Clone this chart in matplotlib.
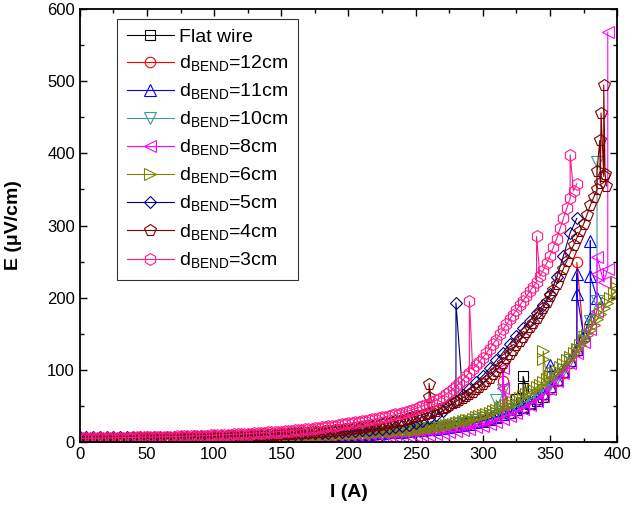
import matplotlib
matplotlib.use("Agg")
import matplotlib.pyplot as plt
from matplotlib.ticker import MultipleLocator
import numpy as np

plt.rcParams['font.family'] = ['Liberation Sans', 'DejaVu Sans']
plt.rcParams['mathtext.fontset'] = 'custom'
plt.rcParams['mathtext.rm'] = 'Liberation Sans'

# current steps (A): 5 A runs and 2.5 A runs
current = np.arange(0, 400.1, 5)
current_fine = np.arange(0, 400.1, 2.5)

#******  E (uV/cm) per run, one value per current step  ******#
flat_wire = [3.8, 3.8, 3.9, 3.9, 4.0, 4.0, 4.1, 4.2, 4.2, 4.3, 4.4, 4.5, 4.6, 4.7, 4.8, 4.9,
             5.0, 5.1, 5.2, 5.3, 5.5, 5.6, 5.8, 5.9, 6.1, 6.3, 6.5, 6.7, 6.9, 7.1, 7.4, 7.6,
             7.9, 8.2, 8.5, 8.8, 9.1, 9.5, 9.8, 10.2, 10.6, 11.0, 11.5, 12.0, 12.5, 13.1, 13.7,
             14.3, 15.0, 15.7, 16.5, 17.3, 18.2, 19.2, 20.3, 21.5, 22.8, 24.3, 25.9, 27.7, 29.7,
             31.9, 34.4, 37.2, 40.3, 43.8, 47.7, 52.1, 57.1, 62.8]
d12 = [3.5, 3.5, 3.6, 3.6, 3.7, 3.7, 3.8, 3.9, 3.9, 4.0, 4.1, 4.2, 4.3, 4.4, 4.5, 4.6, 4.7,
       4.8, 4.9, 5.0, 5.2, 5.3, 5.5, 5.6, 5.8, 6.0, 6.2, 6.4, 6.6, 6.8, 7.0, 7.3, 7.5, 7.8, 8.0,
       8.3, 8.6, 8.9, 9.2, 9.5, 9.9, 10.3, 10.7, 11.1, 11.6, 12.1, 12.6, 13.2, 13.8, 14.5, 15.2,
       16.0, 16.9, 17.9, 19.0, 20.2, 21.6, 23.1, 24.8, 26.7, 28.8, 31.2, 33.8, 36.8, 40.1, 43.8,
       48, 53, 59, 66, 74, 84, 96, 110, 126, 144]
d11 = [4.0, 4.0, 4.1, 4.1, 4.2, 4.2, 4.3, 4.3, 4.4, 4.5, 4.5, 4.6, 4.7, 4.8, 4.9, 5.0, 5.1,
       5.2, 5.3, 5.4, 5.5, 5.7, 5.8, 6.0, 6.1, 6.3, 6.5, 6.7, 6.9, 7.1, 7.3, 7.6, 7.8, 8.1, 8.4,
       8.7, 9.0, 9.3, 9.7, 10.0, 10.4, 10.8, 11.3, 11.7, 12.2, 12.7, 13.3, 13.9, 14.5, 15.2, 15.9,
       16.7, 17.6, 18.6, 19.7, 20.9, 22.3, 23.8, 25.5, 27.5, 29.7, 32.2, 35.0, 38.2, 41.8, 45.8,
       50.3, 55.5, 61.5, 68.5, 77, 87, 99, 113, 129, 148, 172, 200]
d10 = [3.2, 3.2, 3.3, 3.3, 3.4, 3.4, 3.5, 3.5, 3.6, 3.7, 3.7, 3.8, 3.9, 4.0, 4.1, 4.2, 4.3,
       4.4, 4.5, 4.6, 4.8, 4.9, 5.1, 5.2, 5.4, 5.6, 5.8, 6.0, 6.2, 6.4, 6.7, 6.9, 7.2, 7.5, 7.8,
       8.1, 8.4, 8.8, 9.2, 9.6, 10.0, 10.5, 11.0, 11.5, 12.1, 12.7, 13.4, 14.1, 14.9, 15.8, 16.7,
       17.7, 18.8, 20.0, 21.3, 22.8, 24.4, 26.2, 28.2, 30.4, 32.8, 35.5, 38.5, 41.8, 45.5, 49.5,
       54, 59, 65, 72, 80, 89, 100, 113, 128, 146, 168, 195]
d8 = [3.0, 3.0, 3.1, 3.1, 3.2, 3.2, 3.3, 3.3, 3.4, 3.4, 3.5, 3.6, 3.6, 3.7, 3.8, 3.9, 3.9,
      4.0, 4.1, 4.2, 4.3, 4.4, 4.5, 4.6, 4.7, 4.8, 4.9, 5.0, 5.1, 5.2, 5.3, 5.4, 5.5, 5.7, 5.8,
      6.0, 6.1, 6.3, 6.5, 6.7, 6.9, 7.1, 7.3, 7.5, 7.7, 7.9, 8.0, 8.1, 8.2, 8.3, 8.5, 9.3, 10.2,
      11.2, 12.3, 13.6, 15, 16.6, 18.4, 20.4, 22.6, 25, 28, 31.5, 35.5, 40, 45, 51, 57, 64, 73,
      84, 96, 109, 123, 139, 157, 182, 222]
d6 = [2.0, 2.05, 2.1, 2.15, 2.2, 2.25, 2.3, 2.35, 2.4, 2.45, 2.5, 2.55, 2.6, 2.65, 2.7, 2.75,
      2.8, 2.85, 2.9, 2.95, 3.0, 3.1, 3.2, 3.25, 3.3, 3.4, 3.5, 3.55, 3.6, 3.7, 3.8, 3.9, 4.0,
      4.1, 4.2, 4.3, 4.4, 4.5, 4.6, 4.7, 4.8,
      4.9, 5.0, 5.15, 5.3, 5.4, 5.5, 5.65, 5.8, 5.95, 6.1, 6.25, 6.4, 6.55, 6.7, 6.85, 7.0,
      7.2, 7.4, 7.6, 7.8, 8.0, 8.2, 8.4, 8.6, 8.8, 9.0, 9.2, 9.4, 9.65, 9.9, 10.1, 10.3,
      10.55, 10.8, 11.05, 11.3, 11.55, 11.8, 12.05, 12.3,
      12.55, 12.8, 13.05, 13.3, 13.55, 13.8, 14.05, 14.3, 14.55, 14.8, 15.05, 15.3, 15.55, 15.8,
      16.0, 16.2, 16.4, 16.6, 16.8, 17.0, 17.6, 18.3, 18.9, 19.6, 20.3, 21, 21.8, 22.6, 23.5,
      24.4, 25.4, 26.4, 27.5, 28.6, 29.8, 31, 32.5, 34, 35.5, 37,
      38.7, 40.5, 42.4, 44.3, 46.4, 48.5, 50.7, 53, 55.5, 58, 60.7, 63.5, 66.5, 69.5, 72.7, 76,
      79.5, 83, 87, 91, 95, 99, 103.5, 108, 113, 118, 123.5, 129, 135, 141, 148, 155, 162.5,
      170, 178, 186, 193, 200, 206.5, 213]
d5 = [6.5, 6.5, 6.5, 6.6, 6.6, 6.6, 6.7, 6.7, 6.8, 6.8, 6.9, 7.0, 7.1, 7.2, 7.3, 7.4, 7.5,
      7.6, 7.7, 7.9, 8.0, 8.2, 8.4, 8.6, 8.8, 9.0, 9.3, 9.5, 9.8, 10.1, 10.4, 10.7, 11.0, 11.4,
      11.8, 12.2, 12.6, 13.1, 13.6, 14.1, 14.7, 15.3, 16.0, 16.7, 17.5, 18.4, 19.4, 20.6, 22.0,
      24.0, 26.5, 29.5, 33, 37.5, 43, 49.5, 57, 65, 74, 83, 92, 102, 113, 124, 136, 147, 158,
      168, 179, 190, 205, 228, 258, 290, 310]
d4 = [4.0, 4.05, 4.1, 4.15, 4.2, 4.25, 4.3, 4.35, 4.4, 4.45, 4.5, 4.55, 4.6, 4.65, 4.7, 4.75,
      4.8, 4.85, 4.9, 4.95, 5.0, 5.05, 5.1, 5.2, 5.3, 5.35, 5.4, 5.5, 5.6, 5.7, 5.8, 5.9, 6.0,
      6.1, 6.2, 6.35, 6.5, 6.6, 6.7, 6.85, 7.0,
      7.15, 7.3, 7.45, 7.6, 7.75, 7.9, 8.05, 8.2, 8.4, 8.6, 8.8, 9.0, 9.2, 9.4, 9.6, 9.8, 10.05,
      10.3, 10.55, 10.8, 11.05, 11.3, 11.55, 11.8, 12.1, 12.4, 12.7, 13.0, 13.35, 13.7, 14.05,
      14.4, 14.8, 15.2, 15.6, 16.0, 16.45, 16.9, 17.45, 18.0,
      18.6, 19.2, 19.85, 20.5, 21.2, 21.9, 22.65, 23.4, 24.2, 25.0, 25.85, 26.7, 27.6, 28.5,
      29.5, 30.5, 31.65, 32.8, 34.05, 35.3, 36.6, 37.9, 39.2, 40.5, 42, 43.5, 45.2, 47, 49, 51,
      53.5, 56, 58.5, 61, 63.5, 66, 69.5, 73, 76.5, 80,
      84.5, 89, 94, 99, 104.5, 110, 116, 122, 128, 134, 140, 146, 152.5, 159, 165.5, 172, 179,
      186, 194, 202, 210.5, 219, 229.5, 240, 251, 262, 272.5, 283, 292.5, 302, 315, 328, 339,
      350, 359, 368]
d3 = [5.0, 5.0, 5.1, 5.2, 5.2, 5.3, 5.4, 5.5, 5.5, 5.6, 5.7, 5.8, 5.9, 5.9, 6.0, 6.1, 6.2,
      6.3, 6.4, 6.5, 6.6, 6.7, 6.8, 6.9, 7.0, 7.1, 7.2, 7.3, 7.5, 7.6, 7.7, 7.8, 8.0, 8.1, 8.3,
      8.4, 8.6, 8.7, 8.9, 9.1, 9.3,
      9.5, 9.7, 9.9, 10.1, 10.3, 10.5, 10.8, 11.0, 11.2, 11.5, 11.7, 12.0, 12.3, 12.6, 12.9,
      13.2, 13.5, 13.8, 14.1, 14.5, 14.9, 15.3, 15.7, 16.1, 16.5, 17.0, 17.5, 18.0, 18.5, 19.0,
      19.6, 20.2, 20.8, 21.5, 22.1, 22.8, 23.5, 24.3, 25.0, 25.8,
      26.5, 27.3, 28.0, 28.8, 29.6, 30.4, 31.2, 32.1, 33.0, 34.0, 35.0, 36.0, 37.1, 38.2, 39.4,
      40.6, 41.9, 43.3, 44.8, 46.3, 47.9, 49.6, 51.4, 53.3, 55.4, 57.6, 60.2, 63, 66, 69, 73,
      77, 81.5, 86, 91, 96, 101, 106, 111.5, 117,
      123, 129, 135.5, 142, 149, 156, 163, 170, 176.5, 183, 189.5, 196, 202.5, 209, 215.5, 222,
      230, 238, 248, 258, 270, 282, 296, 310, 324, 338, 348, 358]

# jumps / outlying readings (current, E)
flat_jumps = [(325, 60), (330, 75), (330, 91)]
d12_jumps = [(315, 84), (370, 249)]
d11_jumps = [(350, 107), (370, 233), (370, 205), (380, 279), (380, 230)]
d10_jumps = [(310, 58), (315, 72), (385, 388)]
d8_jumps = [(315, 102), (315, 75), (385, 233), (385, 256), (393, 240), (393, 568)]
d6_jumps = [(345, 115), (345, 126), (400, 222), (400, 205)]
d5_jumps = [(280, 193)]
d4_jumps = [(260, 63), (260, 81), (385, 375), (387, 418), (388, 456), (390, 495),
            (391, 372), (392, 355)]
d3_jumps = [(290, 195), (340, 285), (365, 398)]

labels = ['Flat wire', 'd$_\\mathregular{BEND}$=12cm', 'd$_\\mathregular{BEND}$=11cm',
          'd$_\\mathregular{BEND}$=10cm', 'd$_\\mathregular{BEND}$=8cm', 'd$_\\mathregular{BEND}$=6cm',
          'd$_\\mathregular{BEND}$=5cm', 'd$_\\mathregular{BEND}$=4cm', 'd$_\\mathregular{BEND}$=3cm']

runs = [(flat_wire, current, flat_jumps, 'k', 's', 7),
        (d12, current, d12_jumps, '#ff0000', 'o', 7.5),
        (d11, current, d11_jumps, '#0000ff', '^', 8),
        (d10, current, d10_jumps, '#3a9c9c', 'v', 8),
        (d8, current, d8_jumps, '#ff00ff', '<', 8),
        (d6, current_fine, d6_jumps, '#808000', '>', 8),
        (d5, current, d5_jumps, '#000080', 'D', 6.5),
        (d4, current_fine, d4_jumps, '#800000', 'p', 8.5),
        (d3, current_fine, d3_jumps, '#ff1a8c', 'h', 8.5)]


def merge(values, grid, jumps):
    n = min(len(values), len(grid))
    x = np.concatenate([grid[:n], [j[0] for j in jumps]])
    y = np.concatenate([values[:n], [j[1] for j in jumps]])
    order = np.argsort(x, kind='stable')
    return x[order], y[order]


fig = plt.figure(figsize=(6.33, 5.08), dpi=100)
ax = fig.add_axes([0.126, 0.13, 0.849, 0.852])

for (vals, grid, jumps, col, mk, ms), lab in zip(runs, labels):
    x, y = merge(vals, grid, jumps)
    ax.plot(x, y, color=col, lw=0.8, marker=mk, ms=ms, mfc='none', mec=col, mew=0.8,
            label=lab)

ax.set_xlim(0, 400)
ax.set_ylim(0, 600)
ax.xaxis.set_major_locator(MultipleLocator(50))
ax.xaxis.set_minor_locator(MultipleLocator(25))
ax.yaxis.set_major_locator(MultipleLocator(100))
ax.yaxis.set_minor_locator(MultipleLocator(50))
ax.tick_params(which='both', direction='in', top=True, right=True, labelsize=12, width=1)
ax.tick_params(which='major', length=5)
ax.tick_params(which='minor', length=3)
for s in ax.spines.values():
    s.set_linewidth(1.3)

ax.set_xlabel('I (A)', fontsize=14, fontweight='bold', labelpad=16)
ax.set_ylabel('E (\u03bcV/cm)', fontsize=14, fontweight='bold', labelpad=18)

leg = ax.legend(loc='upper left', bbox_to_anchor=(0.07, 0.978), fontsize=14, frameon=True,
                fancybox=False, edgecolor='k', handlelength=2.4, handletextpad=0.25,
                labelspacing=0.4, borderpad=0.5, borderaxespad=0)
leg.get_frame().set_linewidth(0.8)

fig.savefig('out.png', dpi=100)
